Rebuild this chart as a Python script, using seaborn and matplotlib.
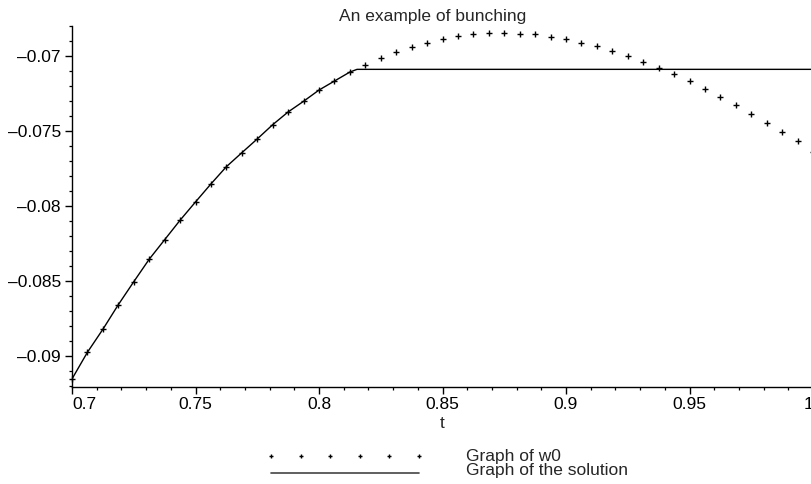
import numpy as np
import pandas as pd
import matplotlib
matplotlib.use("Agg")
import matplotlib.pyplot as plt
from matplotlib.ticker import FixedLocator, MultipleLocator
import seaborn as sns

# ---------------- data ----------------
t_w0 = [0.7000, 0.70625, 0.7125, 0.71875, 0.7250, 0.73125, 0.7375, 0.74375,
        0.7500, 0.75625, 0.7625, 0.76875, 0.7750, 0.78125, 0.7875, 0.79375,
        0.8000, 0.80625, 0.8125, 0.81875, 0.8250, 0.83125, 0.8375, 0.84375,
        0.8500, 0.85625, 0.8625, 0.86875, 0.8750, 0.88125, 0.8875, 0.89375,
        0.9000, 0.90625, 0.9125, 0.91875, 0.9250, 0.93125, 0.9375, 0.94375,
        0.9500, 0.95625, 0.9625, 0.96875, 0.9750, 0.98125, 0.9875, 0.99375,
        1.0000]
w0 = [-0.09153, -0.08975, -0.08822, -0.08658, -0.08505, -0.08355, -0.08225, -0.08095,
      -0.07973, -0.07853, -0.07738, -0.07645, -0.07553, -0.07458, -0.07373, -0.07302,
      -0.07227, -0.07167, -0.07107, -0.07060, -0.07011, -0.06973, -0.06938, -0.06911,
      -0.06887, -0.06867, -0.06855, -0.06849, -0.06847, -0.06851, -0.06855, -0.06871,
      -0.06889, -0.06911, -0.06935, -0.06967, -0.06998, -0.07038, -0.07078, -0.07122,
      -0.07169, -0.07222, -0.07275, -0.07327, -0.07387, -0.07445, -0.07507, -0.07569,
      -0.07638]

# solution: equals w0 up to the bunching point, then constant
t_sol = t_w0[:19] + [0.8154, 1.0000]
y_sol = w0[:19] + [-0.07089, -0.07089]

x_major = [0.70, 0.75, 0.80, 0.85, 0.90, 0.95, 1.00]
x_labels = ["0.7", "0.75", "0.8", "0.85", "0.9", "0.95", "1"]
y_major = [-0.09, -0.085, -0.08, -0.075, -0.07]
y_labels = ["\u20130.09", "\u20130.085", "\u20130.08", "\u20130.075", "\u20130.07"]

title = "An example of bunching"
xlabel = "t"
legend_labels = ["Graph of w0", "Graph of the solution"]

# ---------------- style ----------------
sns.set_style("ticks")
plt.rcParams["font.family"] = ["Liberation Sans", "DejaVu Sans"]
FS = 12.5

W, H = 812, 484
fig = plt.figure(figsize=(W / 100, H / 100), dpi=100)

def px(x, y):
    return x / W, 1 - y / H

left, right, top, bottom = 72, 813, 26, 387
ax = fig.add_axes([left / W, 1 - bottom / H, (right - left) / W, (bottom - top) / H])

df_w0 = pd.DataFrame({"t": t_w0, "w0": w0})
df_sol = pd.DataFrame({"t": t_sol, "y": y_sol})

sns.lineplot(data=df_sol, x="t", y="y", ax=ax, color="black", linewidth=1.0,
             sort=False, estimator=None, legend=False)
sns.scatterplot(data=df_w0, x="t", y="w0", ax=ax, marker="+", color="black",
                s=18, linewidth=1.0, legend=False, clip_on=False)

ax.set_xlim(0.7, 1.0)
ax.set_ylim(-0.092067, -0.068)

ax.xaxis.set_major_locator(FixedLocator(x_major))
ax.set_xticklabels(x_labels)
ax.xaxis.set_minor_locator(MultipleLocator(0.01))
ax.yaxis.set_major_locator(FixedLocator(y_major))
ax.set_yticklabels(y_labels)
ax.yaxis.set_minor_locator(MultipleLocator(0.001))

ax.tick_params(axis="both", which="major", length=5, width=1.0, color="black",
               labelsize=FS, labelcolor="black", direction="out")
ax.tick_params(axis="both", which="minor", length=2.5, width=0.9, color="black",
               direction="out")
ax.tick_params(axis="x", which="major", pad=2)
ax.tick_params(axis="y", which="major", pad=3)
# first x label sits to the right of the axis corner, last one stays inside the figure
xtl = ax.get_xticklabels()
xtl[0].set_horizontalalignment("left")
xtl[-1].set_horizontalalignment("right")

for s in ["top", "right"]:
    ax.spines[s].set_visible(False)
for s in ["left", "bottom"]:
    ax.spines[s].set_color("black")
    ax.spines[s].set_linewidth(1.0)
ax.set_xlabel("")
ax.set_ylabel("")
ax.set_facecolor("white")

fig.text(*px(433, 17), title, ha="center", va="center", fontsize=FS)
fig.text(*px(442, 423), xlabel, ha="center", va="center", fontsize=FS)

# ---------------- legend (manual, below the axes) ----------------
lax = fig.add_axes([0, 0, 1, 1])
lax.set_xlim(0, W)
lax.set_ylim(H, 0)
lax.axis("off")
lax.patch.set_alpha(0)
lx = np.linspace(271, 419, 6)
lax.plot(lx, [456] * 6, linestyle="none", marker="+", color="black",
         markersize=3.5, markeredgewidth=1.0)
lax.plot([271, 419], [472.7, 472.7], color="#444444", linewidth=1.2)
lax.text(466, 457, legend_labels[0], ha="left", va="center", fontsize=FS)
lax.text(466, 471, legend_labels[1], ha="left", va="center", fontsize=FS)

fig.savefig("out.png", dpi=100, facecolor="white")
